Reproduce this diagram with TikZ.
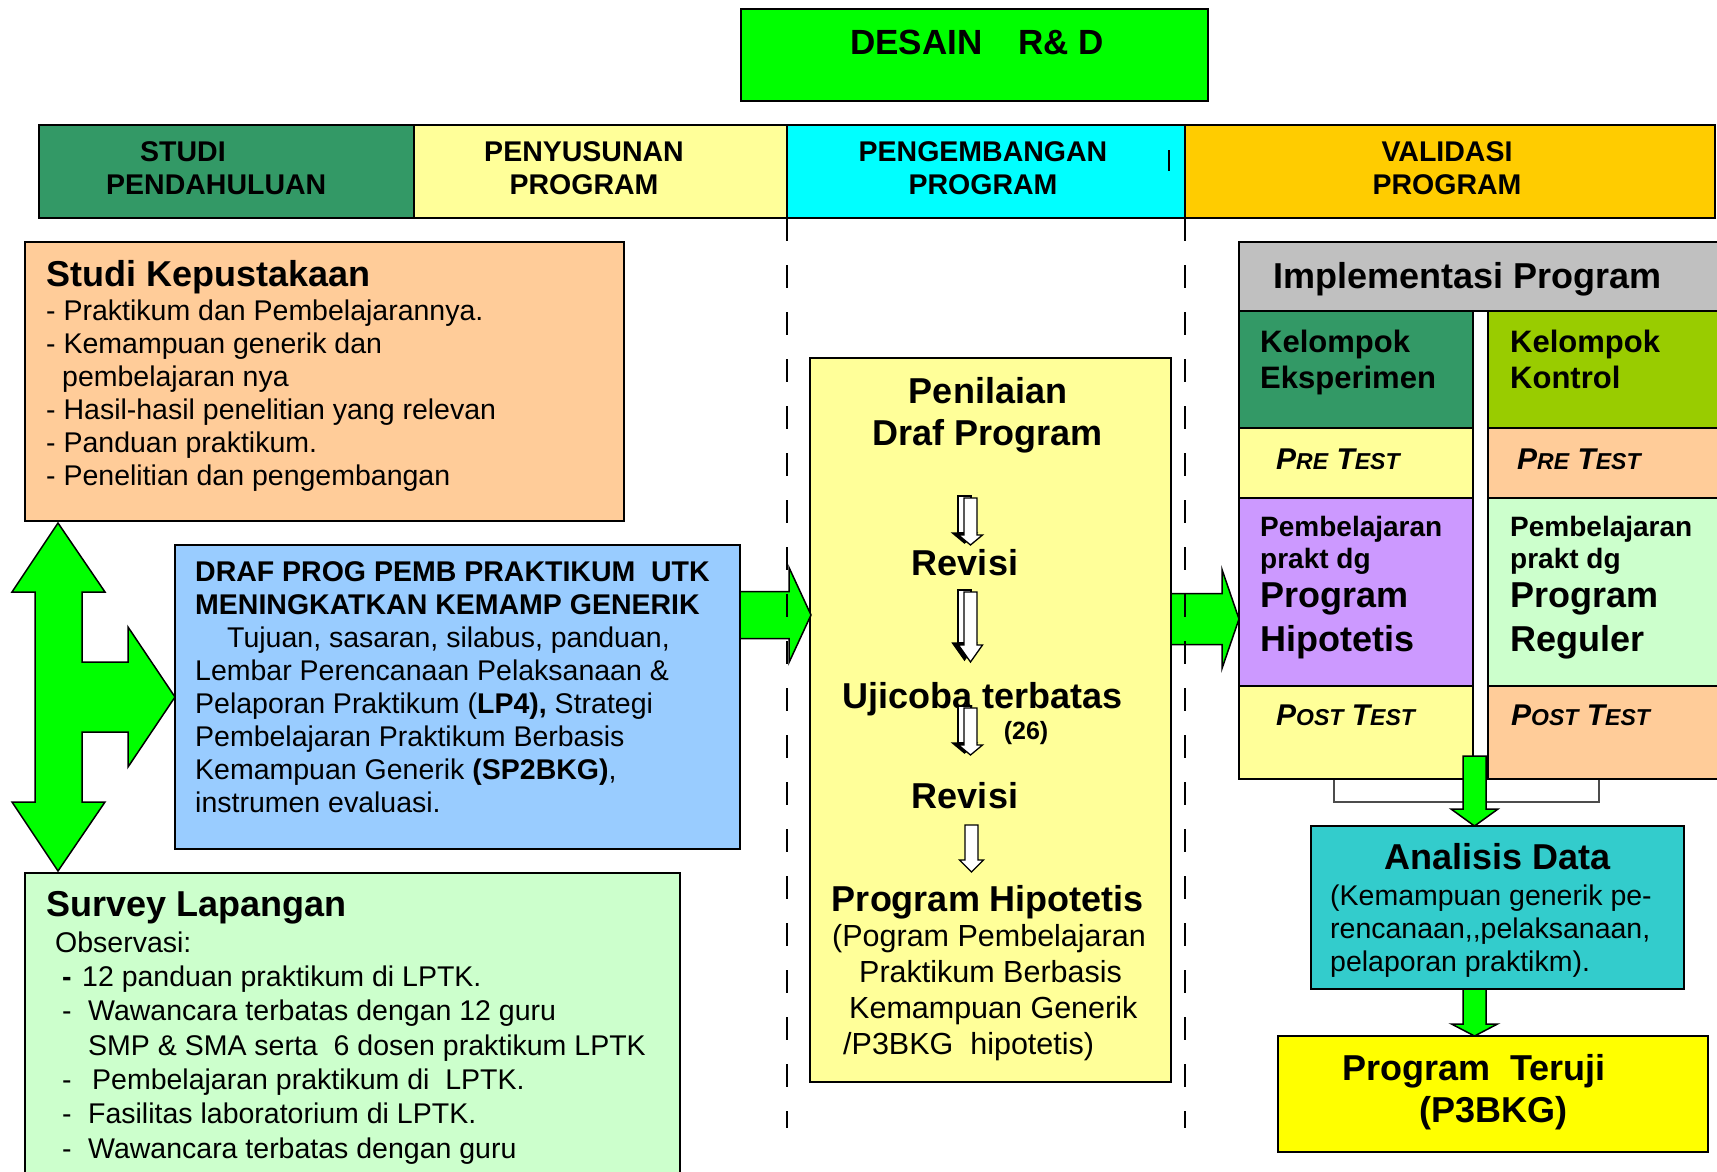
\documentclass[tikz,border=0pt]{standalone}
\usepackage{fontspec}
\setmainfont{Liberation Sans}
\usetikzlibrary{calc}
\definecolor{cGreen}{HTML}{00FF00}
\definecolor{cSea}{HTML}{339966}
\definecolor{cPale}{HTML}{FFFF99}
\definecolor{cAqua}{HTML}{00FFFF}
\definecolor{cGold}{HTML}{FFCC00}
\definecolor{cPeach}{HTML}{FFCC99}
\definecolor{cSky}{HTML}{99CCFF}
\definecolor{cMint}{HTML}{CCFFCC}
\definecolor{cSilver}{HTML}{C0C0C0}
\definecolor{cOlive}{HTML}{99CC00}
\definecolor{cLav}{HTML}{CC99FF}
\definecolor{cCyan}{HTML}{33CCCC}
\definecolor{cYellow}{HTML}{FFFF00}
\newcommand{\capsmall}[1]{{\fontsize{23}{26}\selectfont #1}}
\newcommand{\tikzArrowRight}[5]{
  \draw[greenarrow] ($(#1 |- #2)+(0,-#3)$) -- ($(#2)+(-#5,-#3)$) -- ($(#2)+(-#5,-#4)$) -- (#2)
    -- ($(#2)+(-#5,#4)$) -- ($(#2)+(-#5,#3)$) -- ($(#1 |- #2)+(0,#3)$) -- cycle;
}
\newcommand{\tikzArrowDown}[5]{
  \draw[greenarrow] ($(#2 |- #1)+(-#3,0)$) -- ($(#2)+(-#3,-#5)$) -- ($(#2)+(-#4,-#5)$) -- (#2)
    -- ($(#2)+(#4,-#5)$) -- ($(#2)+(#3,-#5)$) -- ($(#2 |- #1)+(#3,0)$) -- cycle;
}
\newcommand{\tikzWhiteArrow}[3]{
  \draw[hollowarrow] ($(#1)+(-6.5,0)$) -- ($(#2)+(-6.5,-#3)$) -- ($(#2)+(-12,-#3)$) -- (#2)
    -- ($(#2)+(12,-#3)$) -- ($(#2)+(6.5,-#3)$) -- ($(#1)+(6.5,0)$) -- cycle;
}
\newcommand{\tikzShadowArrow}[3]{
  \draw[hollowarrow] ($(#1)+(-12.5,-2)$) rectangle ($(#2)+(0.5,-2-#3)$);
  \draw[hollowarrow, fill=black] ($(#2)+(-18,-2-#3)$) -- ($(#2)+(-6,-2)$) -- ($(#2)+(6,-2-#3)$) -- cycle;
  \tikzWhiteArrow{#1}{#2}{#3}
}
\tikzset{
  box/.style={draw, line width=1.8pt, inner sep=0pt, outer sep=0pt, anchor=north west},
  txt/.style={inner sep=0pt, align=left, anchor=north west, font=\fontsize{28.5}{33}\selectfont},
  phase/.style={inner sep=0pt, align=center, anchor=north, font=\fontsize{28.5}{33}\selectfont\bfseries},
  head/.style={inner sep=0pt, font=\fontsize{36}{42}\selectfont\bfseries},
  greenarrow/.style={fill=cGreen, draw=black, line width=1.5pt},
  hollowarrow/.style={fill=white, draw=black, line width=1.3pt},
  phaseline/.style={draw=black, line width=1.5pt, dash pattern=on 23pt off 24pt},
}
\begin{document}
\begin{tikzpicture}[x=1pt, y=-1pt]
  \useasboundingbox (0,0) rectangle (1717,1172);
  \fill[white] (0,0) rectangle (1717,1172);
  \clip (0,0) rectangle (1717,1172);

  % judul dan tahapan
  \node[box, fill=cGreen, minimum width=467, minimum height=92] (desain) at (741,9) {};
  \node[head, font=\fontsize{35}{40}\selectfont\bfseries, anchor=base west] (desainText) at (850,54.6) {DESAIN\hspace{36pt}R\& D};
  \node[box, fill=cSea, minimum width=375, minimum height=93] (hdrStudi) at (39,125) {};
  \node[box, fill=cPale, minimum width=373, minimum height=93] (hdrSusun) at (414,125) {};
  \node[box, fill=cAqua, minimum width=398, minimum height=93] (hdrKembang) at (787,125) {};
  \node[box, fill=cGold, minimum width=530, minimum height=93] (hdrValid) at (1185,125) {};
  \node[phase, align=left, anchor=north west] (hdrStudiText) at (106,141) {\hspace*{34pt}STUDI\\PENDAHULUAN};
  \node[phase] (hdrSusunText) at (584,141) {PENYUSUNAN\\PROGRAM};
  \node[phase] (hdrKembangText) at (983,141) {PENGEMBANGAN\\PROGRAM};
  \node[phase] (hdrValidText) at (1447,141) {VALIDASI\\PROGRAM};
  \draw[line width=1.5pt] (1169,150) -- (1169,171);

  % studi pendahuluan
  \node[box, fill=cPeach, minimum width=599, minimum height=279] (kepus) at (25,242) {};
  \node[head, anchor=base west] (kepusTitle) at (46,286) {Studi Kepustakaan};
  \node[txt] (kepusBody) at (46,299.5) {- Praktikum dan Pembelajarannya.\\
    - Kemampuan generik dan\\
    \hspace*{16pt}pembelajaran nya\\
    - Hasil-hasil penelitian yang relevan\\
    - Panduan praktikum.\\
    - Penelitian dan pengembangan};
  \node[box, fill=cSky, minimum width=565, minimum height=304] (draf) at (175,545) {};
  \node[txt] (drafBody) at (195,561.5) {\textbf{DRAF PROG PEMB PRAKTIKUM\ \ UTK}\\
    \textbf{MENINGKATKAN KEMAMP GENERIK}\\
    \hspace*{32pt}Tujuan, sasaran, silabus, panduan,\\
    Lembar Perencanaan Pelaksanaan \&\\
    Pelaporan Praktikum (\textbf{LP4),} Strategi\\
    Pembelajaran Praktikum Berbasis\\
    Kemampuan Generik \textbf{(SP2BKG)},\\
    instrumen evaluasi.};
  \node[box, fill=cMint, minimum width=655, minimum height=330] (survey) at (25,873) {};
  \node[head, anchor=base west] (surveyTitle) at (46,916) {Survey Lapangan};
  \node[txt, font=\fontsize{28.5}{34.3}\selectfont] (surveyBody) at (55,931.5) {Observasi:\\
    \hspace*{7pt}\textbf{-}\hspace{10.5pt}12 panduan praktikum di LPTK.\\
    \hspace*{7pt}-\hspace{16.5pt}Wawancara terbatas dengan 12 guru\\
    \hspace*{33pt}SMP \& SMA serta\ \ 6 dosen praktikum LPTK\\
    \hspace*{7pt}-\hspace{20.5pt}Pembelajaran praktikum di\ \ LPTK.\\
    \hspace*{7pt}-\hspace{16.5pt}Fasilitas laboratorium di LPTK.\\
    \hspace*{7pt}-\hspace{16.5pt}Wawancara terbatas dengan guru};

  % panah hijau kiri
  \coordinate (hTop) at ($(kepus.south west)+(33,2)$);
  \coordinate (hBot) at ($(survey.north west)+(33,-2)$);
  \coordinate (hRight) at (draf.west);
  \draw[greenarrow] (hTop) -- ($(hTop)+(47,69)$) -- ($(hTop)+(24,69)$) -- ($(hRight)+(-93,-35)$)
    -- ($(hRight)+(-47,-35)$) -- ($(hRight)+(-47,-70)$) -- (hRight) -- ($(hRight)+(-47,70)$)
    -- ($(hRight)+(-47,35)$) -- ($(hRight)+(-93,35)$) -- ($(hBot)+(24,-69)$) -- ($(hBot)+(47,-69)$)
    -- (hBot) -- ($(hBot)+(-46,-69)$) -- ($(hBot)+(-23,-69)$) -- ($(hTop)+(-23,69)$)
    -- ($(hTop)+(-46,69)$) -- cycle;

  % pengembangan program
  \node[box, fill=cPale, minimum width=361, minimum height=724] (penilaian) at (810,358) {};
  \node[head, align=center, anchor=north] (penTitle) at (988,377) {Penilaian\\Draf Program};
  \node[head, anchor=base] (revisiA) at (965,575) {Revisi};
  \node[head, anchor=base] (ujicoba) at (983,708) {Ujicoba terbatas};
  \node[inner sep=0pt, anchor=base, font=\fontsize{25}{28}\selectfont\bfseries] (ujiJumlah) at (1026,739) {(26)};
  \node[head, anchor=base] (revisiB) at (965,808) {Revisi};
  \node[head, anchor=base] (progHip) at (988,911) {Program Hipotetis};
  \node[txt, font=\fontsize{30.5}{36}\selectfont] (progHipBody) at (832,924.5) {(Pogram Pembelajaran\\
    \hspace*{27pt}Praktikum Berbasis\\
    \hspace*{17pt}Kemampuan Generik\\
    \hspace*{11pt}/P3BKG\ \ hipotetis)};
  \foreach \ytop/\ytip/\hl in {498/545/10, 592/662/17, 708/755/10}
    \tikzShadowArrow{970.5,\ytop}{970.5,\ytip}{\hl};
  \tikzWhiteArrow{971.5,825}{971.5,872}{12}

  % validasi program
  \draw[draw=black!70, line width=1.8pt, fill=white] (1334,760) rectangle (1599,802);
  \node[box, fill=cSilver, minimum width=481, minimum height=69] (implHead) at (1239,242) {};
  \node[box, fill=cSea, minimum width=234, minimum height=117] (eksHead) at (1239,311) {};
  \node[box, fill=cPale, minimum width=234, minimum height=70] (eksPre) at (1239,428) {};
  \node[box, fill=cLav, minimum width=234, minimum height=188] (eksPemb) at (1239,498) {};
  \node[box, fill=cPale, minimum width=234, minimum height=93] (eksPost) at (1239,686) {};
  \node[box, fill=cOlive, minimum width=232, minimum height=117] (konHead) at (1488,311) {};
  \node[box, fill=cPeach, minimum width=232, minimum height=70] (konPre) at (1488,428) {};
  \node[box, fill=cMint, minimum width=232, minimum height=188] (konPemb) at (1488,498) {};
  \node[box, fill=cPeach, minimum width=232, minimum height=93] (konPost) at (1488,686) {};
  \node[head, anchor=base west] (implText) at (1273,288) {Implementasi Program};
  \node[txt, font=\fontsize{31}{36}\selectfont\bfseries] (eksHeadText) at (1260,329.5) {Kelompok\\Eksperimen};
  \node[txt, font=\fontsize{31}{36}\selectfont\bfseries] (konHeadText) at (1510,329.5) {Kelompok\\Kontrol};
  \node[inner sep=0pt, anchor=base west, font=\fontsize{30}{34}\selectfont\bfseries\itshape] (eksPreText) at (1276,469) {P\capsmall{RE} T\capsmall{EST}};
  \node[inner sep=0pt, anchor=base west, font=\fontsize{30}{34}\selectfont\bfseries\itshape] (konPreText) at (1517,469) {P\capsmall{RE} T\capsmall{EST}};
  \node[txt, font=\fontsize{28}{32}\selectfont\bfseries] (eksPembA) at (1260,515.6) {Pembelajaran\\prakt dg};
  \node[txt, font=\fontsize{36}{44}\selectfont\bfseries] (eksPembB) at (1260,582.7) {Program\\Hipotetis};
  \node[txt, font=\fontsize{28}{32}\selectfont\bfseries] (konPembA) at (1510,515.6) {Pembelajaran\\prakt dg};
  \node[txt, font=\fontsize{36}{44}\selectfont\bfseries] (konPembB) at (1510,582.7) {Program\\Reguler};
  \node[inner sep=0pt, anchor=base west, font=\fontsize{30}{34}\selectfont\bfseries\itshape] (eksPostText) at (1276,725) {P\capsmall{OST} T\capsmall{EST}};
  \node[inner sep=0pt, anchor=base west, font=\fontsize{30}{34}\selectfont\bfseries\itshape] (konPostText) at (1511,725) {P\capsmall{OST} T\capsmall{EST}};

  \node[box, fill=cCyan, minimum width=373, minimum height=163] (anal) at (1311,826) {};
  \node[head, anchor=base] (analTitle) at (anal.north |- 0,869) {Analisis Data};
  \node[txt] (analBody) at (1330,884.5) {(Kemampuan generik pe-\\rencanaan,{},pelaksanaan,\\pelaporan praktikm).};
  \node[box, fill=cYellow, minimum width=430, minimum height=116] (teruji) at (1278,1036) {};
  \node[txt, font=\fontsize{36}{42}\selectfont\bfseries] (terujiText) at (1342,1054.7) {Program\ \ Teruji\\\hspace*{77pt}(P3BKG)};

  % panah antar tahap
  \coordinate (penIn) at ($(penilaian.north west)+(1,257)$);
  \coordinate (implIn) at ($(implHead.south west)+(0,308)$);
  \tikzArrowRight{draf.east}{penIn}{23.5}{47.5}{22}
  \tikzArrowRight{penilaian.east}{implIn}{25.5}{49.5}{17}
  \coordinate (implOut) at ($(eksPost.south east)+(1.5,-23)$);
  \coordinate (analIn) at (implOut |- anal.north);
  \coordinate (analOut) at (implOut |- anal.south);
  \coordinate (terujiIn) at (implOut |- teruji.north);
  \tikzArrowDown{implOut}{analIn}{11.5}{23.5}{17}
  \tikzArrowDown{analOut}{terujiIn}{11.5}{23}{12}

  \draw[phaseline] (hdrSusun.south east) -- ++(0,910);
  \draw[phaseline] (hdrKembang.south east) -- ++(0,910);
\end{tikzpicture}
\end{document}
